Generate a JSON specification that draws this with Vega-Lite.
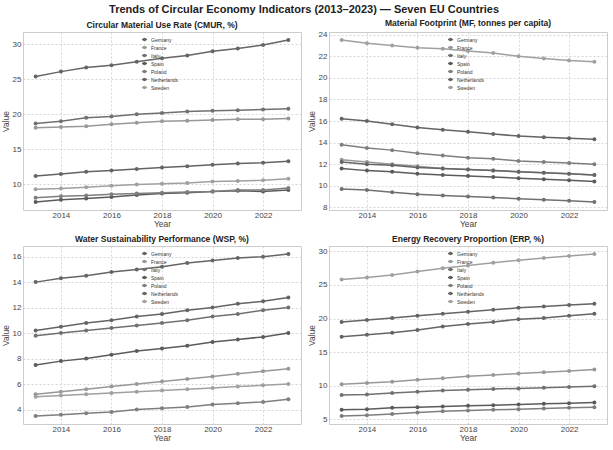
{
  "$schema": "https://vega.github.io/schema/vega-lite/v6.json",
  "description": "Trends of circular economy indicators, seven EU countries, 2013-2023.",
  "padding": {"left": 0, "top": 3, "right": 0, "bottom": 0},
  "background": "white",
  "title": {
    "text": "Trends of Circular Economy Indicators (2013–2023) — Seven EU Countries",
    "font": "Liberation Sans",
    "fontSize": 11,
    "fontWeight": "bold",
    "color": "#222",
    "anchor": "middle",
    "offset": 4
  },
  "datasets": {
    "cmur": [
      {"country": "Germany", "year": 2013, "value": 11.2}, {"country": "Germany", "year": 2014, "value": 11.5}, {"country": "Germany", "year": 2015, "value": 11.8}, {"country": "Germany", "year": 2016, "value": 12.0}, {"country": "Germany", "year": 2017, "value": 12.2}, {"country": "Germany", "year": 2018, "value": 12.4}, {"country": "Germany", "year": 2019, "value": 12.6}, {"country": "Germany", "year": 2020, "value": 12.8}, {"country": "Germany", "year": 2021, "value": 13.0}, {"country": "Germany", "year": 2022, "value": 13.1}, {"country": "Germany", "year": 2023, "value": 13.3},
      {"country": "France", "year": 2013, "value": 18.1}, {"country": "France", "year": 2014, "value": 18.2}, {"country": "France", "year": 2015, "value": 18.3}, {"country": "France", "year": 2016, "value": 18.6}, {"country": "France", "year": 2017, "value": 18.8}, {"country": "France", "year": 2018, "value": 19.0}, {"country": "France", "year": 2019, "value": 19.1}, {"country": "France", "year": 2020, "value": 19.2}, {"country": "France", "year": 2021, "value": 19.3}, {"country": "France", "year": 2022, "value": 19.3}, {"country": "France", "year": 2023, "value": 19.4},
      {"country": "Italy", "year": 2013, "value": 18.7}, {"country": "Italy", "year": 2014, "value": 19.0}, {"country": "Italy", "year": 2015, "value": 19.5}, {"country": "Italy", "year": 2016, "value": 19.7}, {"country": "Italy", "year": 2017, "value": 20.0}, {"country": "Italy", "year": 2018, "value": 20.2}, {"country": "Italy", "year": 2019, "value": 20.4}, {"country": "Italy", "year": 2020, "value": 20.5}, {"country": "Italy", "year": 2021, "value": 20.6}, {"country": "Italy", "year": 2022, "value": 20.7}, {"country": "Italy", "year": 2023, "value": 20.8},
      {"country": "Spain", "year": 2013, "value": 7.5}, {"country": "Spain", "year": 2014, "value": 7.8}, {"country": "Spain", "year": 2015, "value": 8.0}, {"country": "Spain", "year": 2016, "value": 8.2}, {"country": "Spain", "year": 2017, "value": 8.5}, {"country": "Spain", "year": 2018, "value": 8.7}, {"country": "Spain", "year": 2019, "value": 8.8}, {"country": "Spain", "year": 2020, "value": 9.0}, {"country": "Spain", "year": 2021, "value": 9.1}, {"country": "Spain", "year": 2022, "value": 9.0}, {"country": "Spain", "year": 2023, "value": 9.2},
      {"country": "Poland", "year": 2013, "value": 8.1}, {"country": "Poland", "year": 2014, "value": 8.3}, {"country": "Poland", "year": 2015, "value": 8.4}, {"country": "Poland", "year": 2016, "value": 8.6}, {"country": "Poland", "year": 2017, "value": 8.7}, {"country": "Poland", "year": 2018, "value": 8.8}, {"country": "Poland", "year": 2019, "value": 8.9}, {"country": "Poland", "year": 2020, "value": 9.0}, {"country": "Poland", "year": 2021, "value": 9.2}, {"country": "Poland", "year": 2022, "value": 9.2}, {"country": "Poland", "year": 2023, "value": 9.5},
      {"country": "Netherlands", "year": 2013, "value": 25.4}, {"country": "Netherlands", "year": 2014, "value": 26.1}, {"country": "Netherlands", "year": 2015, "value": 26.7}, {"country": "Netherlands", "year": 2016, "value": 27.0}, {"country": "Netherlands", "year": 2017, "value": 27.5}, {"country": "Netherlands", "year": 2018, "value": 28.0}, {"country": "Netherlands", "year": 2019, "value": 28.4}, {"country": "Netherlands", "year": 2020, "value": 29.0}, {"country": "Netherlands", "year": 2021, "value": 29.4}, {"country": "Netherlands", "year": 2022, "value": 29.9}, {"country": "Netherlands", "year": 2023, "value": 30.6},
      {"country": "Sweden", "year": 2013, "value": 9.3}, {"country": "Sweden", "year": 2014, "value": 9.4}, {"country": "Sweden", "year": 2015, "value": 9.6}, {"country": "Sweden", "year": 2016, "value": 9.8}, {"country": "Sweden", "year": 2017, "value": 10.0}, {"country": "Sweden", "year": 2018, "value": 10.1}, {"country": "Sweden", "year": 2019, "value": 10.2}, {"country": "Sweden", "year": 2020, "value": 10.4}, {"country": "Sweden", "year": 2021, "value": 10.5}, {"country": "Sweden", "year": 2022, "value": 10.6}, {"country": "Sweden", "year": 2023, "value": 10.8}
    ],
    "mf": [
      {"country": "Germany", "year": 2013, "value": 16.2}, {"country": "Germany", "year": 2014, "value": 16.0}, {"country": "Germany", "year": 2015, "value": 15.7}, {"country": "Germany", "year": 2016, "value": 15.4}, {"country": "Germany", "year": 2017, "value": 15.2}, {"country": "Germany", "year": 2018, "value": 15.0}, {"country": "Germany", "year": 2019, "value": 14.8}, {"country": "Germany", "year": 2020, "value": 14.6}, {"country": "Germany", "year": 2021, "value": 14.5}, {"country": "Germany", "year": 2022, "value": 14.4}, {"country": "Germany", "year": 2023, "value": 14.3},
      {"country": "France", "year": 2013, "value": 12.4}, {"country": "France", "year": 2014, "value": 12.2}, {"country": "France", "year": 2015, "value": 12.0}, {"country": "France", "year": 2016, "value": 11.8}, {"country": "France", "year": 2017, "value": 11.6}, {"country": "France", "year": 2018, "value": 11.5}, {"country": "France", "year": 2019, "value": 11.4}, {"country": "France", "year": 2020, "value": 11.3}, {"country": "France", "year": 2021, "value": 11.2}, {"country": "France", "year": 2022, "value": 11.1}, {"country": "France", "year": 2023, "value": 11.0},
      {"country": "Italy", "year": 2013, "value": 9.7}, {"country": "Italy", "year": 2014, "value": 9.6}, {"country": "Italy", "year": 2015, "value": 9.4}, {"country": "Italy", "year": 2016, "value": 9.2}, {"country": "Italy", "year": 2017, "value": 9.1}, {"country": "Italy", "year": 2018, "value": 9.0}, {"country": "Italy", "year": 2019, "value": 8.9}, {"country": "Italy", "year": 2020, "value": 8.8}, {"country": "Italy", "year": 2021, "value": 8.7}, {"country": "Italy", "year": 2022, "value": 8.6}, {"country": "Italy", "year": 2023, "value": 8.5},
      {"country": "Spain", "year": 2013, "value": 11.6}, {"country": "Spain", "year": 2014, "value": 11.4}, {"country": "Spain", "year": 2015, "value": 11.3}, {"country": "Spain", "year": 2016, "value": 11.1}, {"country": "Spain", "year": 2017, "value": 11.0}, {"country": "Spain", "year": 2018, "value": 10.9}, {"country": "Spain", "year": 2019, "value": 10.8}, {"country": "Spain", "year": 2020, "value": 10.7}, {"country": "Spain", "year": 2021, "value": 10.6}, {"country": "Spain", "year": 2022, "value": 10.5}, {"country": "Spain", "year": 2023, "value": 10.4},
      {"country": "Poland", "year": 2013, "value": 13.8}, {"country": "Poland", "year": 2014, "value": 13.5}, {"country": "Poland", "year": 2015, "value": 13.3}, {"country": "Poland", "year": 2016, "value": 13.0}, {"country": "Poland", "year": 2017, "value": 12.8}, {"country": "Poland", "year": 2018, "value": 12.6}, {"country": "Poland", "year": 2019, "value": 12.5}, {"country": "Poland", "year": 2020, "value": 12.3}, {"country": "Poland", "year": 2021, "value": 12.2}, {"country": "Poland", "year": 2022, "value": 12.1}, {"country": "Poland", "year": 2023, "value": 12.0},
      {"country": "Netherlands", "year": 2013, "value": 12.2}, {"country": "Netherlands", "year": 2014, "value": 12.0}, {"country": "Netherlands", "year": 2015, "value": 11.9}, {"country": "Netherlands", "year": 2016, "value": 11.7}, {"country": "Netherlands", "year": 2017, "value": 11.6}, {"country": "Netherlands", "year": 2018, "value": 11.5}, {"country": "Netherlands", "year": 2019, "value": 11.4}, {"country": "Netherlands", "year": 2020, "value": 11.3}, {"country": "Netherlands", "year": 2021, "value": 11.2}, {"country": "Netherlands", "year": 2022, "value": 11.1}, {"country": "Netherlands", "year": 2023, "value": 11.0},
      {"country": "Sweden", "year": 2013, "value": 23.5}, {"country": "Sweden", "year": 2014, "value": 23.2}, {"country": "Sweden", "year": 2015, "value": 23.0}, {"country": "Sweden", "year": 2016, "value": 22.8}, {"country": "Sweden", "year": 2017, "value": 22.7}, {"country": "Sweden", "year": 2018, "value": 22.5}, {"country": "Sweden", "year": 2019, "value": 22.3}, {"country": "Sweden", "year": 2020, "value": 22.0}, {"country": "Sweden", "year": 2021, "value": 21.8}, {"country": "Sweden", "year": 2022, "value": 21.6}, {"country": "Sweden", "year": 2023, "value": 21.5}
    ],
    "wsp": [
      {"country": "Germany", "year": 2013, "value": 10.2}, {"country": "Germany", "year": 2014, "value": 10.5}, {"country": "Germany", "year": 2015, "value": 10.8}, {"country": "Germany", "year": 2016, "value": 11.0}, {"country": "Germany", "year": 2017, "value": 11.3}, {"country": "Germany", "year": 2018, "value": 11.5}, {"country": "Germany", "year": 2019, "value": 11.8}, {"country": "Germany", "year": 2020, "value": 12.0}, {"country": "Germany", "year": 2021, "value": 12.3}, {"country": "Germany", "year": 2022, "value": 12.5}, {"country": "Germany", "year": 2023, "value": 12.8},
      {"country": "France", "year": 2013, "value": 5.2}, {"country": "France", "year": 2014, "value": 5.4}, {"country": "France", "year": 2015, "value": 5.6}, {"country": "France", "year": 2016, "value": 5.8}, {"country": "France", "year": 2017, "value": 6.0}, {"country": "France", "year": 2018, "value": 6.2}, {"country": "France", "year": 2019, "value": 6.4}, {"country": "France", "year": 2020, "value": 6.6}, {"country": "France", "year": 2021, "value": 6.8}, {"country": "France", "year": 2022, "value": 7.0}, {"country": "France", "year": 2023, "value": 7.2},
      {"country": "Italy", "year": 2013, "value": 9.8}, {"country": "Italy", "year": 2014, "value": 10.0}, {"country": "Italy", "year": 2015, "value": 10.2}, {"country": "Italy", "year": 2016, "value": 10.4}, {"country": "Italy", "year": 2017, "value": 10.6}, {"country": "Italy", "year": 2018, "value": 10.8}, {"country": "Italy", "year": 2019, "value": 11.0}, {"country": "Italy", "year": 2020, "value": 11.3}, {"country": "Italy", "year": 2021, "value": 11.5}, {"country": "Italy", "year": 2022, "value": 11.8}, {"country": "Italy", "year": 2023, "value": 12.0},
      {"country": "Spain", "year": 2013, "value": 7.5}, {"country": "Spain", "year": 2014, "value": 7.8}, {"country": "Spain", "year": 2015, "value": 8.0}, {"country": "Spain", "year": 2016, "value": 8.3}, {"country": "Spain", "year": 2017, "value": 8.6}, {"country": "Spain", "year": 2018, "value": 8.8}, {"country": "Spain", "year": 2019, "value": 9.0}, {"country": "Spain", "year": 2020, "value": 9.3}, {"country": "Spain", "year": 2021, "value": 9.5}, {"country": "Spain", "year": 2022, "value": 9.7}, {"country": "Spain", "year": 2023, "value": 10.0},
      {"country": "Poland", "year": 2013, "value": 3.5}, {"country": "Poland", "year": 2014, "value": 3.6}, {"country": "Poland", "year": 2015, "value": 3.7}, {"country": "Poland", "year": 2016, "value": 3.8}, {"country": "Poland", "year": 2017, "value": 4.0}, {"country": "Poland", "year": 2018, "value": 4.1}, {"country": "Poland", "year": 2019, "value": 4.2}, {"country": "Poland", "year": 2020, "value": 4.4}, {"country": "Poland", "year": 2021, "value": 4.5}, {"country": "Poland", "year": 2022, "value": 4.6}, {"country": "Poland", "year": 2023, "value": 4.8},
      {"country": "Netherlands", "year": 2013, "value": 14.0}, {"country": "Netherlands", "year": 2014, "value": 14.3}, {"country": "Netherlands", "year": 2015, "value": 14.5}, {"country": "Netherlands", "year": 2016, "value": 14.8}, {"country": "Netherlands", "year": 2017, "value": 15.0}, {"country": "Netherlands", "year": 2018, "value": 15.2}, {"country": "Netherlands", "year": 2019, "value": 15.5}, {"country": "Netherlands", "year": 2020, "value": 15.7}, {"country": "Netherlands", "year": 2021, "value": 15.9}, {"country": "Netherlands", "year": 2022, "value": 16.0}, {"country": "Netherlands", "year": 2023, "value": 16.2},
      {"country": "Sweden", "year": 2013, "value": 5.0}, {"country": "Sweden", "year": 2014, "value": 5.1}, {"country": "Sweden", "year": 2015, "value": 5.2}, {"country": "Sweden", "year": 2016, "value": 5.3}, {"country": "Sweden", "year": 2017, "value": 5.4}, {"country": "Sweden", "year": 2018, "value": 5.5}, {"country": "Sweden", "year": 2019, "value": 5.6}, {"country": "Sweden", "year": 2020, "value": 5.7}, {"country": "Sweden", "year": 2021, "value": 5.8}, {"country": "Sweden", "year": 2022, "value": 5.9}, {"country": "Sweden", "year": 2023, "value": 6.0}
    ],
    "erp": [
      {"country": "Germany", "year": 2013, "value": 19.5}, {"country": "Germany", "year": 2014, "value": 19.8}, {"country": "Germany", "year": 2015, "value": 20.1}, {"country": "Germany", "year": 2016, "value": 20.4}, {"country": "Germany", "year": 2017, "value": 20.7}, {"country": "Germany", "year": 2018, "value": 21.0}, {"country": "Germany", "year": 2019, "value": 21.3}, {"country": "Germany", "year": 2020, "value": 21.6}, {"country": "Germany", "year": 2021, "value": 21.8}, {"country": "Germany", "year": 2022, "value": 22.0}, {"country": "Germany", "year": 2023, "value": 22.2},
      {"country": "France", "year": 2013, "value": 10.2}, {"country": "France", "year": 2014, "value": 10.4}, {"country": "France", "year": 2015, "value": 10.6}, {"country": "France", "year": 2016, "value": 10.9}, {"country": "France", "year": 2017, "value": 11.1}, {"country": "France", "year": 2018, "value": 11.4}, {"country": "France", "year": 2019, "value": 11.6}, {"country": "France", "year": 2020, "value": 11.8}, {"country": "France", "year": 2021, "value": 12.0}, {"country": "France", "year": 2022, "value": 12.2}, {"country": "France", "year": 2023, "value": 12.4},
      {"country": "Italy", "year": 2013, "value": 8.6}, {"country": "Italy", "year": 2014, "value": 8.7}, {"country": "Italy", "year": 2015, "value": 8.9}, {"country": "Italy", "year": 2016, "value": 9.1}, {"country": "Italy", "year": 2017, "value": 9.3}, {"country": "Italy", "year": 2018, "value": 9.4}, {"country": "Italy", "year": 2019, "value": 9.5}, {"country": "Italy", "year": 2020, "value": 9.6}, {"country": "Italy", "year": 2021, "value": 9.7}, {"country": "Italy", "year": 2022, "value": 9.8}, {"country": "Italy", "year": 2023, "value": 9.9},
      {"country": "Spain", "year": 2013, "value": 6.4}, {"country": "Spain", "year": 2014, "value": 6.5}, {"country": "Spain", "year": 2015, "value": 6.7}, {"country": "Spain", "year": 2016, "value": 6.8}, {"country": "Spain", "year": 2017, "value": 6.9}, {"country": "Spain", "year": 2018, "value": 7.0}, {"country": "Spain", "year": 2019, "value": 7.1}, {"country": "Spain", "year": 2020, "value": 7.2}, {"country": "Spain", "year": 2021, "value": 7.3}, {"country": "Spain", "year": 2022, "value": 7.4}, {"country": "Spain", "year": 2023, "value": 7.5},
      {"country": "Poland", "year": 2013, "value": 5.5}, {"country": "Poland", "year": 2014, "value": 5.6}, {"country": "Poland", "year": 2015, "value": 5.8}, {"country": "Poland", "year": 2016, "value": 6.0}, {"country": "Poland", "year": 2017, "value": 6.2}, {"country": "Poland", "year": 2018, "value": 6.3}, {"country": "Poland", "year": 2019, "value": 6.4}, {"country": "Poland", "year": 2020, "value": 6.5}, {"country": "Poland", "year": 2021, "value": 6.6}, {"country": "Poland", "year": 2022, "value": 6.7}, {"country": "Poland", "year": 2023, "value": 6.8},
      {"country": "Netherlands", "year": 2013, "value": 17.3}, {"country": "Netherlands", "year": 2014, "value": 17.6}, {"country": "Netherlands", "year": 2015, "value": 17.9}, {"country": "Netherlands", "year": 2016, "value": 18.3}, {"country": "Netherlands", "year": 2017, "value": 18.8}, {"country": "Netherlands", "year": 2018, "value": 19.2}, {"country": "Netherlands", "year": 2019, "value": 19.5}, {"country": "Netherlands", "year": 2020, "value": 19.9}, {"country": "Netherlands", "year": 2021, "value": 20.1}, {"country": "Netherlands", "year": 2022, "value": 20.4}, {"country": "Netherlands", "year": 2023, "value": 20.7},
      {"country": "Sweden", "year": 2013, "value": 25.8}, {"country": "Sweden", "year": 2014, "value": 26.1}, {"country": "Sweden", "year": 2015, "value": 26.5}, {"country": "Sweden", "year": 2016, "value": 27.0}, {"country": "Sweden", "year": 2017, "value": 27.5}, {"country": "Sweden", "year": 2018, "value": 27.9}, {"country": "Sweden", "year": 2019, "value": 28.3}, {"country": "Sweden", "year": 2020, "value": 28.7}, {"country": "Sweden", "year": 2021, "value": 29.0}, {"country": "Sweden", "year": 2022, "value": 29.3}, {"country": "Sweden", "year": 2023, "value": 29.6}
    ]
  },
  "columns": 2,
  "spacing": {"row": 6, "column": 4},
  "resolve": {"legend": {"color": "independent"}, "scale": {"y": "independent"}},
  "concat": [
    {
      "title": "Circular Material Use Rate (CMUR, %)",
      "width": 278,
      "height": 178,
      "data": {"name": "cmur"},
      "mark": {"type": "line", "strokeWidth": 1.5, "point": {"filled": true, "size": 16}},
      "encoding": {
        "x": {"field": "year", "type": "quantitative", "title": "Year", "scale": {"domain": [2012.5, 2023.5], "nice": false, "zero": false}, "axis": {"values": [2014, 2016, 2018, 2020, 2022], "format": "d"}},
        "y": {"field": "value", "type": "quantitative", "title": "Value", "scale": {"domain": [6.345, 31.755], "nice": false, "zero": false}, "axis": {"values": [10, 15, 20, 25, 30]}},
        "color": {"field": "country", "type": "nominal", "sort": null,
          "scale": {"domain": ["Germany", "France", "Italy", "Spain", "Poland", "Netherlands", "Sweden"], "range": ["#646464", "#989898", "#707070", "#5b5b5b", "#7e7e7e", "#656565", "#a0a0a0"]},
          "legend": {"orient": "none", "legendX": 118, "legendY": 4}}
      }
    },
    {
      "title": "Material Footprint (MF, tonnes per capita)",
      "width": 278,
      "height": 178,
      "data": {"name": "mf"},
      "mark": {"type": "line", "strokeWidth": 1.5, "point": {"filled": true, "size": 16}},
      "encoding": {
        "x": {"field": "year", "type": "quantitative", "title": "Year", "scale": {"domain": [2012.5, 2023.5], "nice": false, "zero": false}, "axis": {"values": [2014, 2016, 2018, 2020, 2022], "format": "d"}},
        "y": {"field": "value", "type": "quantitative", "title": "Value", "scale": {"domain": [7.75, 24.25], "nice": false, "zero": false}, "axis": {"values": [8, 10, 12, 14, 16, 18, 20, 22, 24]}},
        "color": {"field": "country", "type": "nominal", "sort": null,
          "scale": {"domain": ["Germany", "France", "Italy", "Spain", "Poland", "Netherlands", "Sweden"], "range": ["#646464", "#989898", "#707070", "#5b5b5b", "#7e7e7e", "#656565", "#a0a0a0"]},
          "legend": {"orient": "none", "legendX": 118, "legendY": 4}}
      }
    },
    {
      "title": "Water Sustainability Performance (WSP, %)",
      "width": 278,
      "height": 178,
      "data": {"name": "wsp"},
      "mark": {"type": "line", "strokeWidth": 1.5, "point": {"filled": true, "size": 16}},
      "encoding": {
        "x": {"field": "year", "type": "quantitative", "title": "Year", "scale": {"domain": [2012.5, 2023.5], "nice": false, "zero": false}, "axis": {"values": [2014, 2016, 2018, 2020, 2022], "format": "d"}},
        "y": {"field": "value", "type": "quantitative", "title": "Value", "scale": {"domain": [2.865, 16.835], "nice": false, "zero": false}, "axis": {"values": [4, 6, 8, 10, 12, 14, 16]}},
        "color": {"field": "country", "type": "nominal", "sort": null,
          "scale": {"domain": ["Germany", "France", "Italy", "Spain", "Poland", "Netherlands", "Sweden"], "range": ["#646464", "#989898", "#707070", "#5b5b5b", "#7e7e7e", "#656565", "#a0a0a0"]},
          "legend": {"orient": "none", "legendX": 118, "legendY": 4}}
      }
    },
    {
      "title": "Energy Recovery Proportion (ERP, %)",
      "width": 278,
      "height": 178,
      "data": {"name": "erp"},
      "mark": {"type": "line", "strokeWidth": 1.5, "point": {"filled": true, "size": 16}},
      "encoding": {
        "x": {"field": "year", "type": "quantitative", "title": "Year", "scale": {"domain": [2012.5, 2023.5], "nice": false, "zero": false}, "axis": {"values": [2014, 2016, 2018, 2020, 2022], "format": "d"}},
        "y": {"field": "value", "type": "quantitative", "title": "Value", "scale": {"domain": [4.295, 30.805], "nice": false, "zero": false}, "axis": {"values": [5, 10, 15, 20, 25, 30]}},
        "color": {"field": "country", "type": "nominal", "sort": null,
          "scale": {"domain": ["Germany", "France", "Italy", "Spain", "Poland", "Netherlands", "Sweden"], "range": ["#646464", "#989898", "#707070", "#5b5b5b", "#7e7e7e", "#656565", "#a0a0a0"]},
          "legend": {"orient": "none", "legendX": 118, "legendY": 4}}
      }
    }
  ],
  "config": {
    "font": "Liberation Sans",
    "view": {"stroke": "#cccccc", "strokeWidth": 1},
    "title": {"fontSize": 8.5, "fontWeight": "bold", "color": "#222", "offset": 3},
    "axis": {
      "labelFontSize": 8,
      "labelColor": "#444",
      "titleFontSize": 8.5,
      "titleColor": "#444",
      "titleFontWeight": "normal",
      "grid": true,
      "gridColor": "#cccccc",
      "gridDash": [2, 2],
      "gridWidth": 0.8,
      "domain": false,
      "ticks": false,
      "labelPadding": 1,
      "titlePadding": 0
    },
    "axisY": {"labelPadding": 2, "titlePadding": 2},
    "legend": {
      "title": null,
      "padding": 0,
      "labelFontSize": 5,
      "labelColor": "#333",
      "labelOffset": 3,
      "rowPadding": -1.5,
      "symbolType": "M-1,0H-0.4M0.4,0H1M0.4,0L0.28,0.28L0,0.4L-0.28,0.28L-0.4,0L-0.28,-0.28L0,-0.4L0.28,-0.28Z",
      "symbolSize": 25,
      "symbolStrokeWidth": 1.6
    }
  }
}
